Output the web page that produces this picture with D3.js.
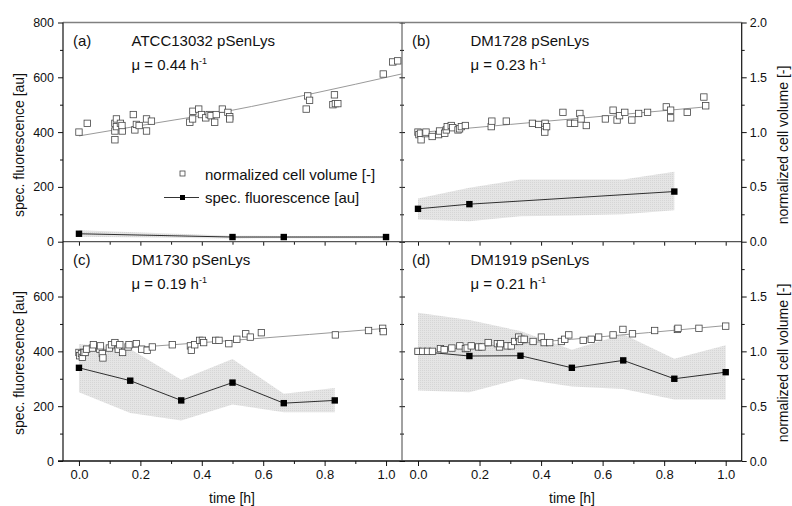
<!DOCTYPE html>
<html>
<head>
<meta charset="utf-8">
<script src="https://cdn.jsdelivr.net/npm/d3@7"></script>
<style>
  body { margin: 0; background: #fff; }
  svg { display: block; }
  text { font-family: "Liberation Sans", Arial, sans-serif; fill: #111; }
</style>
</head>
<body>
<div id="chart"></div>
<script>
const WIDTH  = 792;
const HEIGHT = 506;

// frame
const LEFT  = 63;
const MID_X = 402;
const RIGHT = 741.7;
const TOP   = 22.5;
const MID_Y = 241.7;
const BOT   = 461;

// panel texts
const panelTags   = ['(a)', '(b)', '(c)', '(d)'];
const strains     = ['ATCC13032 pSenLys', 'DM1728 pSenLys', 'DM1730 pSenLys', 'DM1919 pSenLys'];
const growthRates = ['0.44', '0.23', '0.19', '0.21'];

// ticks
const fluoTicks   = [0, 200, 400, 600, 800];
const fluoMinor   = [100, 300, 500, 700];
const volTicks    = [0, 0.5, 1.0, 1.5, 2.0];
const volMinor    = [0.25, 0.75, 1.25, 1.75];
const timeTicks   = [0, 0.2, 0.4, 0.6, 0.8, 1.0];
const timeMinor   = [0.1, 0.3, 0.5, 0.7, 0.9];

// normalized cell volume [-] : [time h, volume]
const volA = [[0,1.0],[0.027,1.08],[0.117,1.08],[0.117,1.01],[0.117,0.93],[0.122,1.05],[0.122,1.12],
  [0.135,1.08],[0.141,1.01],[0.14,1.06],[0.177,1.16],[0.182,1.02],[0.187,1.07],[0.196,1.06],[0.22,1.01],
  [0.22,1.12],[0.236,1.10],[0.361,1.09],[0.37,1.12],[0.371,1.19],[0.39,1.21],[0.399,1.16],[0.413,1.13],
  [0.424,1.16],[0.43,1.15],[0.442,1.09],[0.447,1.16],[0.467,1.21],[0.485,1.18],[0.491,1.14],[0.491,1.12],
  [0.74,1.21],[0.745,1.33],[0.751,1.29],[0.827,1.25],[0.832,1.34],[0.835,1.26],[0.843,1.26],[0.991,1.53],
  [1.022,1.64],[1.038,1.65]];
const volB = [[0,1.0],[0.003,0.977],[0.008,0.99],[0.01,0.93],[0.024,0.986],[0.026,1.0],[0.046,0.96],
  [0.067,0.977],[0.07,1.01],[0.087,0.99],[0.092,1.02],[0.095,1.05],[0.108,1.06],[0.113,1.04],[0.13,1.02],
  [0.135,1.03],[0.141,1.05],[0.154,1.06],[0.238,1.05],[0.24,1.10],[0.287,1.10],[0.372,1.08],[0.392,1.07],
  [0.412,1.04],[0.413,1.08],[0.412,1.0],[0.418,1.05],[0.471,1.18],[0.495,1.08],[0.509,1.08],[0.526,1.17],
  [0.53,1.12],[0.547,1.06],[0.609,1.12],[0.634,1.20],[0.647,1.11],[0.655,1.15],[0.672,1.18],[0.695,1.11],
  [0.717,1.17],[0.746,1.18],[0.807,1.23],[0.821,1.20],[0.821,1.13],[0.875,1.18],[0.929,1.32],[0.935,1.24]];
const volC = [[0,0.99],[0.002,0.96],[0.008,0.98],[0.011,0.945],[0.015,0.99],[0.02,0.99],[0.025,1.02],
  [0.044,1.03],[0.047,1.06],[0.068,1.02],[0.07,1.05],[0.076,0.98],[0.078,0.94],[0.099,1.03],[0.106,1.06],
  [0.117,1.08],[0.128,1.02],[0.133,1.06],[0.142,0.99],[0.16,1.04],[0.163,1.06],[0.187,1.07],[0.204,1.02],
  [0.222,1.01],[0.239,1.04],[0.304,1.06],[0.363,1.05],[0.366,1.01],[0.377,1.06],[0.393,1.10],[0.402,1.10],
  [0.406,1.08],[0.445,1.10],[0.456,1.10],[0.488,1.07],[0.514,1.11],[0.543,1.16],[0.558,1.13],[0.594,1.17],
  [0.835,1.15],[0.943,1.19],[0.989,1.21],[0.991,1.18]];
const volD = [[0,1.0],[0.015,1.0],[0.031,1.0],[0.047,1.0],[0.073,1.025],[0.085,1.015],[0.11,1.03],
  [0.136,1.05],[0.154,1.025],[0.16,1.03],[0.173,1.05],[0.197,1.04],[0.208,1.04],[0.228,1.08],[0.258,1.07],
  [0.265,1.04],[0.268,1.07],[0.29,1.05],[0.303,1.05],[0.314,1.09],[0.327,1.13],[0.33,1.09],[0.336,1.11],
  [0.345,1.11],[0.374,1.09],[0.401,1.13],[0.41,1.08],[0.428,1.08],[0.466,1.09],[0.477,1.11],[0.49,1.15],
  [0.537,1.10],[0.563,1.11],[0.587,1.13],[0.634,1.15],[0.666,1.20],[0.697,1.16],[0.769,1.19],[0.843,1.20],
  [0.845,1.21],[0.913,1.21],[1.0,1.23]];

// growth fits of the volume
const fitA = [[0,0.965],[0.25,1.083],[0.5,1.20],[0.75,1.345],[1.05,1.53]];
const fitB = [[0,0.995],[0.3,1.07],[0.6,1.145],[0.935,1.23]];
const fitC = [[0,1.0],[0.5,1.10],[1.0,1.21]];
const fitD = [[0,1.0],[0.5,1.11],[1.0,1.235]];

// spec. fluorescence [au] : [time h, mean]
const fluoA = [[0,29],[0.5,17],[0.667,17],[1.0,17]];
const fluoB = [[0,120],[0.167,137],[0.833,183]];
const fluoC = [[0,340],[0.167,293],[0.333,221],[0.5,286],[0.667,211],[0.833,221]];
const fluoD = [[0,400],[0.167,383],[0.333,384],[0.5,340],[0.667,367],[0.833,300],[1.0,324]];

// spread band of the fluorescence : [time h, low, high]
const bandA = [[0,18,42],[0.5,12,22],[0.667,13,21],[1.0,13,21]];
const bandB = [[0,81,158],[0.167,75,197],[0.333,93,227],[0.5,96,227],[0.667,100,227],[0.833,115,255]];
const bandC = [[0,251,427],[0.167,175,409],[0.333,148,296],[0.5,206,372],[0.667,178,245],[0.833,178,266]];
const bandD = [[0,257,541],[0.167,251,514],[0.333,300,474],[0.5,272,406],[0.667,263,462],[0.833,224,373],[1.0,224,422]];

const vols  = [volA, volB, volC, volD];
const fits  = [fitA, fitB, fitC, fitD];
const fluos = [fluoA, fluoB, fluoC, fluoD];
const bands = [bandA, bandB, bandC, bandD];

const COLORS = {
  axis:  '#111',
  frame: '#808080',
  fit:   '#9a9a9a',
  open:  '#444',
  fluo:  '#000',
  band:  '#e5e5e5',
  dot:   '#d6d6d6'
};

var svg = d3.select('#chart').append('svg')
  .attr('width', WIDTH)
  .attr('height', HEIGHT);

var defs = svg.append('defs');
var pat = defs.append('pattern')
  .attr('id', 'dots')
  .attr('width', 2)
  .attr('height', 2)
  .attr('patternUnits', 'userSpaceOnUse');
pat.append('rect').attr('width', 2).attr('height', 2).style('fill', COLORS.band);
pat.append('rect').attr('width', 1).attr('height', 1).style('fill', COLORS.dot);

var xLeft  = d3.scaleLinear().domain([-0.052, 1.052]).range([LEFT, MID_X]);
var xRight = d3.scaleLinear().domain([-0.052, 1.052]).range([MID_X, RIGHT]);
var yUp    = d3.scaleLinear().domain([0, 800]).range([MID_Y, TOP]);
var yLow   = d3.scaleLinear().domain([0, 800]).range([BOT, MID_Y]);
var vUp    = d3.scaleLinear().domain([0, 2]).range([MID_Y, TOP]);
var vLow   = d3.scaleLinear().domain([0, 2]).range([BOT, MID_Y]);

var panels = [
  {x: xLeft,  y: yUp,  v: vUp,  top: TOP},
  {x: xRight, y: yUp,  v: vUp,  top: TOP},
  {x: xLeft,  y: yLow, v: vLow, top: MID_Y},
  {x: xRight, y: yLow, v: vLow, top: MID_Y}
];

panels.forEach(function(p, i) {
  let g = svg.append('g').attr('class', 'panel');

  // band
  g.append('path')
    .datum(bands[i])
    .attr('d', d3.area().x(d => p.x(d[0])).y0(d => p.y(d[1])).y1(d => p.y(d[2])))
    .style('fill', 'url(#dots)');

  // fluorescence line + points
  g.append('path')
    .datum(fluos[i])
    .attr('d', d3.line().x(d => p.x(d[0])).y(d => p.y(d[1])))
    .style('fill', 'none')
    .style('stroke', COLORS.fluo)
    .style('stroke-width', 0.8);

  g.selectAll('.fluo')
      .data(fluos[i])
    .enter().append('rect')
      .attr('class', 'fluo')
      .attr('x', d => p.x(d[0]) - 3.2)
      .attr('y', d => p.y(d[1]) - 3.2)
      .attr('width', 6.4)
      .attr('height', 6.4)
      .style('fill', COLORS.fluo);

  // volume fit
  g.append('path')
    .datum(fits[i])
    .attr('d', d3.line().curve(d3.curveMonotoneX).x(d => p.x(d[0])).y(d => p.v(d[1])))
    .style('fill', 'none')
    .style('stroke', COLORS.fit)
    .style('stroke-width', 1);

  // volume points
  g.selectAll('.vol')
      .data(vols[i])
    .enter().append('rect')
      .attr('class', 'vol')
      .attr('x', d => p.x(d[0]) - 3.2)
      .attr('y', d => p.v(d[1]) - 3.2)
      .attr('width', 6.4)
      .attr('height', 6.4)
      .style('fill', '#fff')
      .style('stroke', COLORS.open)
      .style('stroke-width', 0.8);

  // panel labels
  let x0 = p.x.range()[0];
  g.append('text')
    .attr('x', x0 + 10)
    .attr('y', p.top + 23.5)
    .style('font-size', '15px')
    .text(panelTags[i]);
  g.append('text')
    .attr('x', x0 + 68.5)
    .attr('y', p.top + 23.5)
    .style('font-size', '15px')
    .text(strains[i]);
  let mu = g.append('text')
    .attr('x', x0 + 68.5)
    .attr('y', p.top + 47)
    .style('font-size', '15px');
  mu.append('tspan').text('\u03bc = ' + growthRates[i] + ' h');
  mu.append('tspan').attr('dy', -6).style('font-size', '9px').text('-1');
});

// Axes
function clean(size) {
  return function(sel) {
    sel.select('.domain').remove();
    sel.selectAll('.tick line').style('stroke', COLORS.axis).style('stroke-width', 1);
    sel.selectAll('.tick text')
      .style('font-family', '"Liberation Sans", Arial, sans-serif')
      .style('font-size', size + 'px')
      .style('fill', '#111');
  };
}

// left axes
svg.append('g').attr('transform', `translate(${LEFT},0)`)
  .call(d3.axisLeft(yUp).tickValues(fluoTicks).tickSize(5).tickPadding(4)).call(clean(12.5));
svg.append('g').attr('transform', `translate(${LEFT},0)`)
  .call(d3.axisLeft(yUp).tickValues(fluoMinor).tickSize(3).tickFormat('')).call(clean(12.5));
svg.append('g').attr('transform', `translate(${LEFT},0)`)
  .call(d3.axisLeft(yLow).tickValues(fluoTicks.slice(0, 4)).tickSize(5).tickPadding(4)).call(clean(12.5));
svg.append('g').attr('transform', `translate(${LEFT},0)`)
  .call(d3.axisLeft(yLow).tickValues(fluoMinor).tickSize(3).tickFormat('')).call(clean(12.5));

// right axes
svg.append('g').attr('transform', `translate(${RIGHT},0)`)
  .call(d3.axisRight(vUp).tickValues(volTicks).tickSize(5).tickPadding(3).tickFormat(d3.format('.1f'))).call(clean(12.5));
svg.append('g').attr('transform', `translate(${RIGHT},0)`)
  .call(d3.axisRight(vUp).tickValues(volMinor).tickSize(3).tickFormat('')).call(clean(12.5));
svg.append('g').attr('transform', `translate(${RIGHT},0)`)
  .call(d3.axisRight(vLow).tickValues(volTicks.slice(0, 4)).tickSize(5).tickPadding(3).tickFormat(d3.format('.1f'))).call(clean(12.5));
svg.append('g').attr('transform', `translate(${RIGHT},0)`)
  .call(d3.axisRight(vLow).tickValues(volMinor).tickSize(3).tickFormat('')).call(clean(12.5));

// middle divider cross ticks
[yUp, yLow].forEach(function(y) {
  svg.append('g').attr('transform', `translate(${MID_X - 2.5},0)`)
    .call(d3.axisRight(y).tickValues(fluoTicks).tickSize(5.5).tickFormat('')).call(clean(12));
  svg.append('g').attr('transform', `translate(${MID_X - 2},0)`)
    .call(d3.axisRight(y).tickValues(fluoMinor).tickSize(4).tickFormat('')).call(clean(12));
});

// x axes: shared line and bottom
[xLeft, xRight].forEach(function(x) {
  svg.append('g').attr('transform', `translate(0,${MID_Y})`)
    .call(d3.axisBottom(x).tickValues(timeTicks).tickSize(4).tickFormat('')).call(clean(13));
  svg.append('g').attr('transform', `translate(0,${MID_Y})`)
    .call(d3.axisBottom(x).tickValues(timeMinor).tickSize(3).tickFormat('')).call(clean(13));
  svg.append('g').attr('transform', `translate(0,${BOT})`)
    .call(d3.axisBottom(x).tickValues(timeTicks).tickSize(5).tickPadding(4).tickFormat(d3.format('.1f'))).call(clean(13));
  svg.append('g').attr('transform', `translate(0,${BOT})`)
    .call(d3.axisBottom(x).tickValues(timeMinor).tickSize(3).tickFormat('')).call(clean(13));
});

// frame lines
svg.append('line').attr('x1', LEFT).attr('x2', RIGHT).attr('y1', TOP).attr('y2', TOP)
  .style('stroke', COLORS.frame).style('stroke-width', 1.6);
svg.append('line').attr('x1', LEFT).attr('x2', RIGHT).attr('y1', MID_Y).attr('y2', MID_Y)
  .style('stroke', '#555').style('stroke-width', 1.2);
svg.append('line').attr('x1', LEFT - 5).attr('x2', RIGHT).attr('y1', BOT).attr('y2', BOT)
  .style('stroke', COLORS.axis).style('stroke-width', 1.6);
svg.append('line').attr('x1', LEFT).attr('x2', LEFT).attr('y1', TOP).attr('y2', BOT)
  .style('stroke', COLORS.axis).style('stroke-width', 1.2);
svg.append('line').attr('x1', MID_X).attr('x2', MID_X).attr('y1', TOP).attr('y2', BOT)
  .style('stroke', '#444').style('stroke-width', 1);
svg.append('line').attr('x1', RIGHT).attr('x2', RIGHT).attr('y1', TOP).attr('y2', BOT)
  .style('stroke', COLORS.axis).style('stroke-width', 1.2);

// axis titles
[145, 363].forEach(function(cy) {
  svg.append('text')
    .attr('transform', `translate(24,${cy}) rotate(-90)`)
    .attr('text-anchor', 'middle')
    .style('font-size', '14px')
    .text('spec. fluorescence [au]');
  svg.append('text')
    .attr('transform', `translate(788,${cy}) rotate(-90)`)
    .attr('text-anchor', 'middle')
    .style('font-size', '14px')
    .text('normalized cell volume [-]');
});
[232, 572].forEach(function(cx) {
  svg.append('text')
    .attr('x', cx)
    .attr('y', 503)
    .attr('text-anchor', 'middle')
    .style('font-size', '14px')
    .text('time [h]');
});

// Legend
var legend = svg.append('g');
legend.append('rect')
  .attr('x', 180).attr('y', 171).attr('width', 5).attr('height', 5)
  .style('fill', '#fff').style('stroke', COLORS.open).style('stroke-width', 0.8);
legend.append('text')
  .attr('x', 205).attr('y', 179.5)
  .style('font-size', '15px')
  .text('normalized cell volume [-]');
legend.append('line')
  .attr('x1', 164).attr('x2', 199).attr('y1', 197.5).attr('y2', 197.5)
  .style('stroke', COLORS.fluo).style('stroke-width', 0.8);
legend.append('rect')
  .attr('x', 180).attr('y', 195).attr('width', 5).attr('height', 5)
  .style('fill', COLORS.fluo);
legend.append('text')
  .attr('x', 205).attr('y', 202.5)
  .style('font-size', '15px')
  .text('spec. fluorescence [au]');
</script>
</body>
</html>
